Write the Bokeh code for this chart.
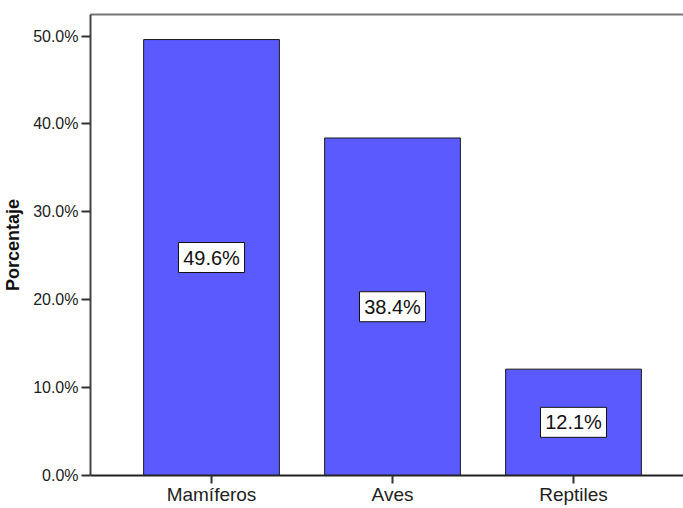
from bokeh.plotting import figure
from bokeh.models import (ColumnDataSource, Range1d, FixedTicker, LinearAxis)
from bokeh.core.properties import value
from bokeh.embed import file_html
from bokeh.resources import INLINE

categories = ["Mamíferos", "Aves", "Reptiles"]
percentages = [49.6, 38.4, 12.1]
bar_labels = ["49.6%", "38.4%", "12.1%"]
y_ticks = [0, 10, 20, 30, 40, 50]
y_tick_labels = ["0.0%", "10.0%", "20.0%", "30.0%", "40.0%", "50.0%"]

xs = list(range(len(categories)))
src = ColumnDataSource(dict(
    x=xs,
    top=percentages,
    mid=[v / 2 for v in percentages],
    label=bar_labels,
))

FONT = "Liberation Sans"

p = figure(width=683, height=508, output_backend="svg", toolbar_location=None,
           x_range=Range1d(-0.6685, 2.6077), y_range=Range1d(0, 52.45),
           min_border_left=90, min_border_right=0, min_border_top=14,
           min_border_bottom=33, background_fill_color="white",
           border_fill_color="white")
p.outline_line_color = None
p.grid.visible = False

p.vbar(x="x", top="top", width=0.75, bottom=0, source=src,
       fill_color="#5A5AFF", line_color="#1a1a1a", line_width=1)

# label boxes
p.rect(x="x", y="mid", width=66, height=30, width_units="screen",
       height_units="screen", source=src, fill_color="white",
       line_color="#111111", line_width=1)
p.text(x="x", y="mid", text="label", source=src, text_align="center",
       text_baseline="middle", text_font=value(FONT), text_font_size="20px",
       text_color="#111111")

# y axis
ya = p.yaxis[0]
ya.ticker = FixedTicker(ticks=y_ticks)
ya.major_label_overrides = {t: l for t, l in zip(y_ticks, y_tick_labels)}
ya.minor_tick_line_color = None
ya.major_tick_out = 9
ya.major_tick_in = 0
ya.major_tick_line_width = 2
ya.major_tick_line_color = "#333333"
ya.axis_line_width = 2
ya.axis_line_color = "#444444"
ya.major_label_text_font = FONT
ya.major_label_text_font_size = "16px"
ya.major_label_text_color = "#222222"
ya.major_label_standoff = 3
ya.axis_label = "Porcentaje"
ya.axis_label_text_font = FONT
ya.axis_label_text_font_style = "bold"
ya.axis_label_text_font_size = "18px"
ya.axis_label_text_color = "#111111"
ya.axis_label_standoff = 7

# x axis
xa = p.xaxis[0]
xa.ticker = FixedTicker(ticks=xs)
xa.major_label_overrides = {i: c for i, c in enumerate(categories)}
xa.minor_tick_line_color = None
xa.major_tick_out = 8
xa.major_tick_in = 0
xa.major_tick_line_width = 2
xa.major_tick_line_color = "#333333"
xa.axis_line_width = 2
xa.axis_line_color = "#222222"
xa.major_label_text_font = FONT
xa.major_label_text_font_size = "19px"
xa.major_label_text_color = "#222222"
xa.major_label_standoff = 0

# top border as an empty axis
top = LinearAxis(ticker=FixedTicker(ticks=[]), major_label_text_font_size="0px",
                 axis_line_color="#777777", axis_line_width=2,
                 major_tick_line_color=None, minor_tick_line_color=None)
p.add_layout(top, "above")

open("out.html", "w").write(file_html(p, INLINE))
